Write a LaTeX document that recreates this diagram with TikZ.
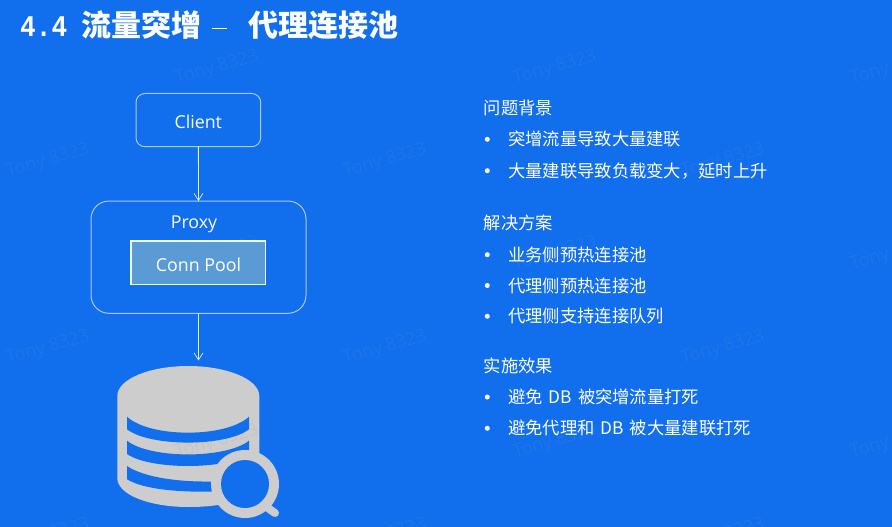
\documentclass[tikz,border=0pt]{standalone}
\usepackage{fontspec}
\usetikzlibrary{arrows.meta}
\setmainfont{Open Sans}
\newfontfamily\cjk{Noto Sans CJK SC}
\newfontfamily\titlemono[FakeStretch=0.87]{Liberation Mono}
\definecolor{bgblue}{HTML}{116EEC}
\definecolor{edgeblue}{HTML}{A9CBF7}
\definecolor{poolblue}{HTML}{5B9BD5}
\definecolor{dbgray}{HTML}{CDCDCD}
\definecolor{wmblue}{HTML}{1E75E9}
\definecolor{wmgray}{HTML}{C6C6C8}
\tikzset{
  x=1pt,y=-1pt,
  box/.style={draw=edgeblue,line width=1pt,fill=none,inner sep=0pt,outer sep=0pt,anchor=north west},
  boxlabel/.style={text=white,font=\fontsize{17.8}{20}\selectfont,inner sep=0pt},
  pool/.style={draw=white!92!poolblue,fill=poolblue,line width=1.5pt,inner sep=0pt,outer sep=0pt,anchor=north west},
  flow/.style={draw=white!88!bgblue,line width=.8pt,-{Straight Barb[length=7pt,width=9pt,line width=.7pt]}},
  head/.style={anchor=west,text=white,inner sep=0pt,font=\cjk\fontsize{17.3}{20}\selectfont},
  item/.style={head},
  dot/.style={circle,fill=white,inner sep=0pt,minimum size=5pt},
  wm/.style={text=wmblue,rotate=16,inner sep=0pt,font=\fontsize{18}{20}\selectfont},
}
\begin{document}
\begin{tikzpicture}
\useasboundingbox (0,0) rectangle (892,527);
\fill[bgblue] (0,0) rectangle (892,527);

% watermarks
\foreach \wx/\wy [count=\wi] in {217/68,555/68,892/68,48/161,385/161,723/161,217/254,555/254,892/254,48/348,385/348,723/348,555/442,892/442,48/536,385/536,723/536}
  \node[wm] (wm\wi) at (\wx,\wy) {Tony 8323};

% title
\node[anchor=west,text=white,inner sep=0pt] (title) at (20,25.5)
  {\fontsize{30}{34}\selectfont\titlemono\bfseries 4.4\hspace{14.5pt}\cjk\bfseries 流量突增\hspace{10pt}\titlemono\mdseries\rule[8pt]{15pt}{1.2pt}\hspace{22pt}\cjk\bfseries 代理连接池};

% flow
\node[box,rounded corners=9pt,minimum width=124.7pt,minimum height=53.2pt] (client) at (136,93.5) {};
\node[boxlabel] (clientlabel) at (198.3,122) {Client};
\node[box,rounded corners=18pt,minimum width=215pt,minimum height=112.3pt] (proxy) at (91,201) {};
\node[boxlabel] (proxylabel) at (194,224) {Proxy};
\node[pool,minimum width=134.7pt,minimum height=43.3pt] (connpool) at (131,241) {};
\node[boxlabel] (poollabel) at (198.5,264.5) {Conn Pool};
\coordinate (dbtop) at (198.5,360.5);
\draw[flow] (client.south) -- (proxy.north);
\draw[flow] (proxy.south) -- (dbtop);

% database icon
\fill[dbgray] (117.3,396) .. controls (117.3,379) and (150,366) .. (188.3,366)
  .. controls (226,366) and (259.3,379) .. (259.3,396)
  -- (259.3,470) -- (245,484) -- (218,505)
  .. controls (208,506.5) and (198,507) .. (188.3,507)
  .. controls (150,507) and (117.3,495) .. (117.3,478) -- cycle;
\node[text=wmgray,rotate=16,inner sep=0pt,font=\fontsize{18}{20}\selectfont] (wmdb) at (217,442) {Tony 8323};
\fill[bgblue] (127,416.7) .. controls (150,438) and (226,438) .. (249,416.7)
  -- (249,429.3) .. controls (226,447) and (150,447) .. (127,429.3) -- cycle;
\fill[bgblue] (127,440.7) .. controls (150,459) and (226,459) .. (249,440.7)
  -- (249,454) .. controls (226,470) and (150,470) .. (127,454) -- cycle;
\fill[bgblue] (127,466) .. controls (145,478) and (180,482) .. (212,481.5)
  -- (212,491.7) .. controls (180,492) and (145,490) .. (127,479.3) -- cycle;
\fill[dbgray] (245,484) circle[radius=34];
\fill[bgblue] (245,484) circle[radius=24];
\draw[dbgray,line width=8pt,line cap=round] (268,508) -- (275,513);

% right column
\node[head] (h1) at (483.5,108.3) {问题背景};
\node[dot] (d11) at (487.3,139.3) {};
\node[item] (t11) at (508,139.3) {突增流量导致大量建联};
\node[dot] (d12) at (487.3,170.7) {};
\node[item] (t12) at (508,170.7) {大量建联导致负载变大，延时上升};
\node[head] (h2) at (483.5,223) {解决方案};
\node[dot] (d21) at (487.3,254.7) {};
\node[item] (t21) at (508,254.7) {业务侧预热连接池};
\node[dot] (d22) at (487.3,285.5) {};
\node[item] (t22) at (508,285.5) {代理侧预热连接池};
\node[dot] (d23) at (487.3,316.3) {};
\node[item] (t23) at (508,316.3) {代理侧支持连接队列};
\node[head] (h3) at (483.5,366) {实施效果};
\node[dot] (d31) at (487.3,397) {};
\node[item] (t31) at (508,397) {避免\hspace{6pt}DB\hspace{6pt}被突增流量打死};
\node[dot] (d32) at (487.3,428.3) {};
\node[item] (t32) at (508,428.3) {避免代理和\hspace{6pt}DB\hspace{6pt}被大量建联打死};
\end{tikzpicture}
\end{document}
